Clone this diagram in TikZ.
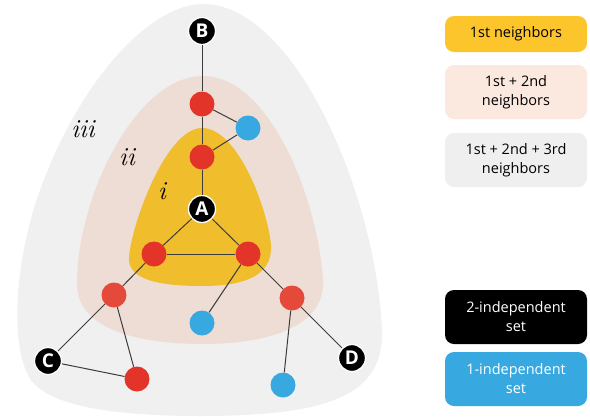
\documentclass[tikz,border=0pt]{standalone}
\usepackage{fontspec}
\newfontfamily\legfont{Open Sans}
\definecolor{ygold}{HTML}{F0BD2D}
\definecolor{ypeach}{HTML}{EEDDD5}
\definecolor{ygray}{HTML}{F0F0F0}
\definecolor{lgold}{HTML}{FDC52C}
\definecolor{lpeach}{HTML}{FBE8DF}
\definecolor{lgray}{HTML}{EFEFEF}
\definecolor{nodered}{HTML}{E3342A}
\definecolor{nodered2}{HTML}{E5493A}
\definecolor{nodeblue}{HTML}{38A9E0}
\definecolor{edgegray}{HTML}{3C3C3C}
\begin{document}
\begin{tikzpicture}[x=1pt,y=-1pt,
  edge/.style={draw=edgegray, line width=1pt},
  rednode/.style={circle, fill=nodered, minimum size=25pt, inner sep=0pt},
  redtwo/.style={circle, fill=nodered2, minimum size=25pt, inner sep=0pt},
  bluenode/.style={circle, fill=nodeblue, minimum size=25pt, inner sep=0pt},
  blknode/.style={circle, fill=black, draw=white, line width=1.3pt, minimum size=27pt, inner sep=0pt, text=white, font=\legfont\bfseries\fontsize{19}{19}\selectfont},
  legbox/.style={rounded corners=9pt, minimum width=142pt, inner sep=0pt, align=center, font=\legfont\fontsize{14.5}{19}\selectfont},
  ringlabel/.style={font=\itshape\fontsize{26}{26}\selectfont}
]
\useasboundingbox (0,0) rectangle (590,416);
% regions
\fill[ygray] (203,4) .. controls (295,4) and (376,195) .. (382,330)
  .. controls (384,395) and (330,416) .. (200,416)
  .. controls (90,416) and (40,400) .. (28,375)
  .. controls (10,340) and (15,260) .. (40,190)
  .. controls (80,80) and (150,4) .. (203,4) -- cycle;
\fill[ypeach] (203,76) .. controls (270,76) and (318,200) .. (323,280)
  .. controls (326,330) and (260,344) .. (203,344)
  .. controls (140,344) and (78,330) .. (77,285)
  .. controls (76,200) and (135,76) .. (203,76) -- cycle;
\fill[ygold] (202,128) .. controls (238,128) and (268,210) .. (271,245)
  .. controls (273,278) and (240,286) .. (202,286)
  .. controls (160,286) and (128,280) .. (129,258)
  .. controls (131,225) and (166,128) .. (202,128) -- cycle;
% ring labels
\node[ringlabel] (liii) at (83,129) {iii};
\node[ringlabel] (lii) at (127,157) {ii};
\node[ringlabel] (li) at (162,191) {i};
% nodes
\node[blknode] (B) at (202,31) {B};
\node[rednode] (r1) at (202,104) {};
\node[bluenode] (b1) at (248,128) {};
\node[rednode] (r2) at (202,157) {};
\node[blknode] (A) at (202,209) {A};
\node[rednode] (r3) at (154,254) {};
\node[rednode] (r4) at (248,254) {};
\node[redtwo] (r5) at (114,295) {};
\node[bluenode] (b2) at (202,323) {};
\node[redtwo] (r6) at (292,298) {};
\node[blknode] (C) at (48,361) {C};
\node[rednode] (r7) at (137,379) {};
\node[blknode] (D) at (352,358) {D};
\node[bluenode] (b3) at (283,385) {};
% edges
\draw[edge] (B) -- (r1);
\draw[edge] (r1) -- (b1);
\draw[edge] (b1) -- (r2);
\draw[edge] (r1) -- (r2);
\draw[edge] (r2) -- (A);
\draw[edge] (A) -- (r3);
\draw[edge] (A) -- (r4);
\draw[edge] (r3) -- (r4);
\draw[edge] (r3) -- (r5);
\draw[edge] (r4) -- (b2);
\draw[edge] (r4) -- (r6);
\draw[edge] (r5) -- (C);
\draw[edge] (r5) -- (r7);
\draw[edge] (C) -- (r7);
\draw[edge] (r6) -- (b3);
\draw[edge] (r6) -- (D);
% legend
\node[legbox, fill=lgold, minimum height=36pt] (k1) at (516,34) {1st neighbors};
\node[legbox, fill=lpeach, minimum height=54pt] (k2) at (516,92) {1st + 2nd\\neighbors};
\node[legbox, fill=lgray, minimum height=54pt] (k3) at (516,160) {1st + 2nd + 3rd\\neighbors};
\node[legbox, fill=black, text=white, minimum height=54pt] (k4) at (516,317) {2-independent\\set};
\node[legbox, fill=nodeblue, text=white, minimum height=54pt] (k5) at (516,379) {1-independent\\set};
\end{tikzpicture}
\end{document}
